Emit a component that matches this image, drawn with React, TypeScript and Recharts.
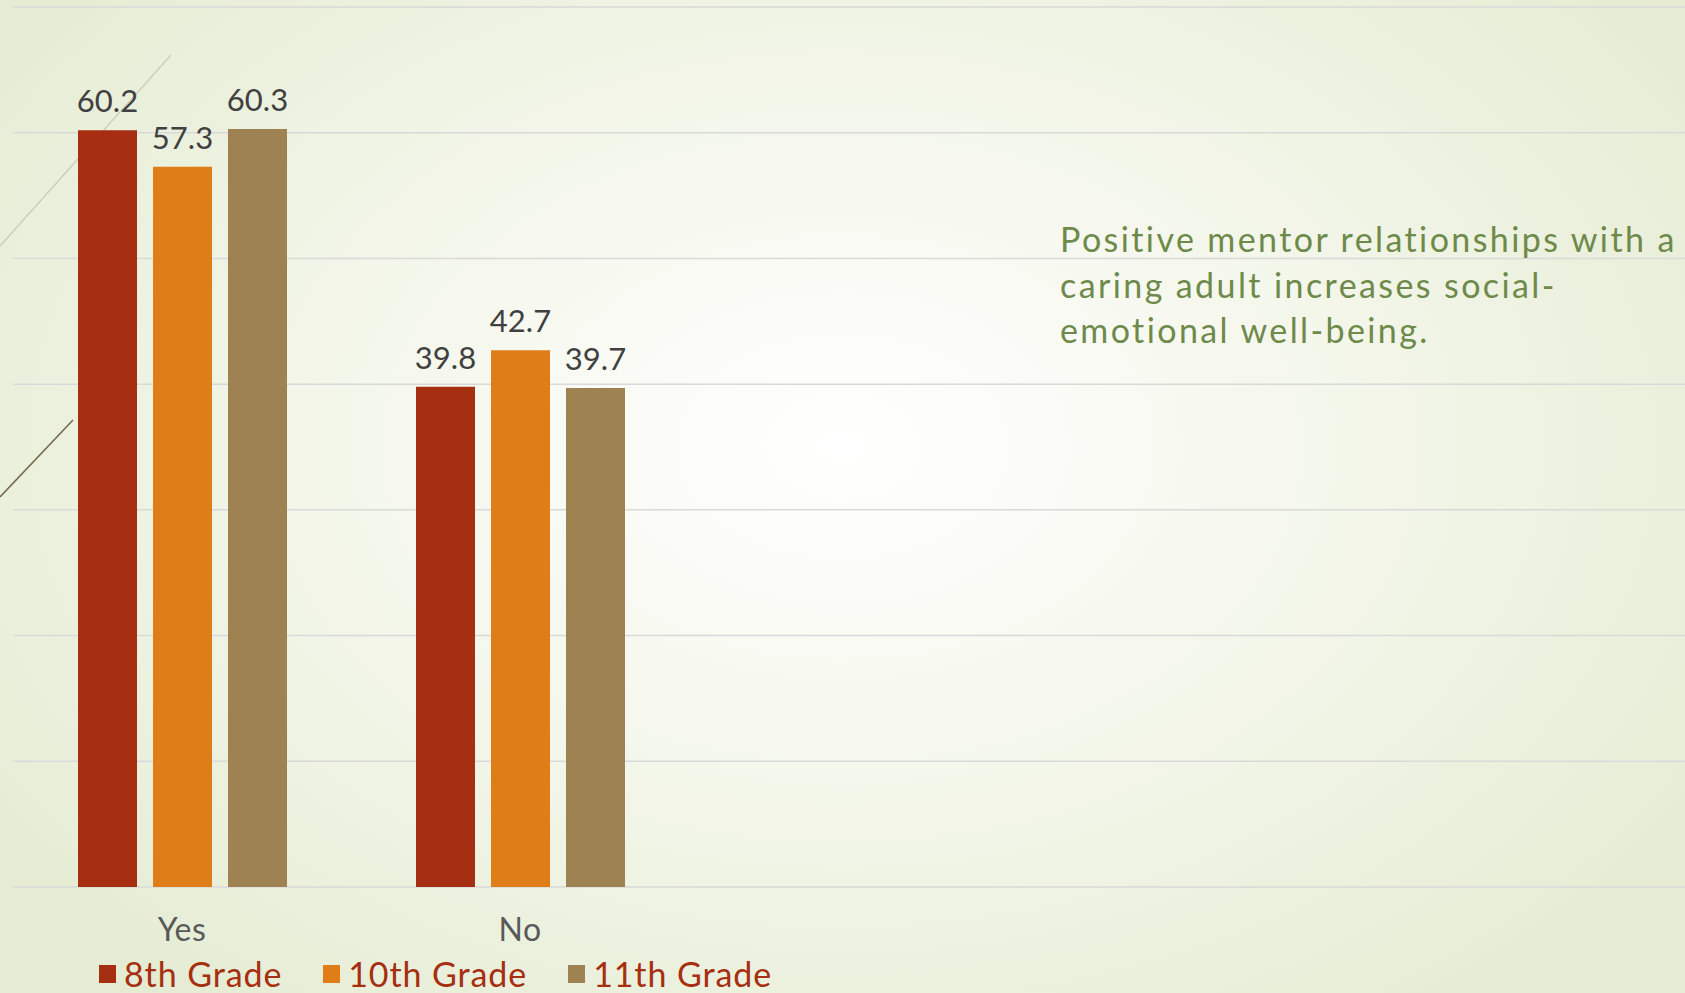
import { BarChart, Bar, XAxis, YAxis, CartesianGrid, Legend, LabelList } from "recharts";

const categories = ["Yes", "No"];
const grade8 = [60.2, 39.8];
const grade10 = [57.3, 42.7];
const grade11 = [60.3, 39.7];
const yTicks = [0, 10, 20, 30, 40, 50, 60, 70];

const series = [
  { key: "g8", name: "8th Grade", color: "#a52f10" },
  { key: "g10", name: "10th Grade", color: "#df7e19" },
  { key: "g11", name: "11th Grade", color: "#9e8251" },
];

const noteLines = [
  "Positive mentor relationships with a",
  "caring adult increases social-",
  "emotional well-being.",
];

const data = categories.map((c, i) => ({
  cat: c,
  g8: grade8[i],
  g10: grade10[i],
  g11: grade11[i],
}));

const FONT = "Lato, 'Open Sans', sans-serif";

// category tick, text baseline well below the axis
function CatTick(props: any) {
  const { x, y, payload } = props;
  return (
    <text x={x} y={y + 46} textAnchor="middle" fill="#595959"
      fontSize={32} fontFamily={FONT} letterSpacing={0.5}>
      {payload.value}
    </text>
  );
}

function LegendBox() {
  return (
    <div style={{ display: "flex", alignItems: "center", height: 34 }}>
      {series.map((s) => (
        <div key={s.key} style={{ display: "flex", alignItems: "center", marginRight: 41 }}>
          <span style={{ width: 17, height: 18, background: s.color, display: "inline-block", marginRight: 8 }} />
          <span style={{
            color: "#a52f10", fontSize: 34, fontFamily: FONT, lineHeight: "34px",
            letterSpacing: 0.9,
          }}>{s.name}</span>
        </div>
      ))}
    </div>
  );
}

export default function App() {
  return (
    <div style={{
      position: "absolute", left: 0, top: 0, width: 1685, height: 993, overflow: "hidden",
      background: "radial-gradient(ellipse 62% 72% at 50% 45%, #ffffff 0%, #f6f8ee 40%, #e5ecd3 100%)",
    }}>
      {/* slide decoration lines */}
      <svg width={1685} height={993} style={{ position: "absolute", left: 0, top: 0 }}>
        <line x1={171} y1={55} x2={0} y2={246} stroke="#c9ccb9" strokeWidth={1.2} />
        <line x1={73} y1={420} x2={0} y2={497} stroke="#76694f" strokeWidth={1.6} />
      </svg>

      <div style={{ position: "absolute", left: 0, top: 0 }}>
        <BarChart width={1685} height={993} data={data}
          margin={{ top: 7, right: 0, left: 13, bottom: 2 }}
          barSize={59} barGap={16}>
          <CartesianGrid vertical={false} stroke="#d9d9d9" strokeWidth={1.5} />
          <YAxis hide domain={[0, 70]} ticks={yTicks} />
          <XAxis dataKey="cat" height={70} axisLine={false} tickLine={false}
            padding={{ left: 0, right: 996 }} tick={<CatTick />} />
          <Legend verticalAlign="bottom" height={34} content={<LegendBox />}
            wrapperStyle={{ left: 99, width: 800 }} />
          {series.map((s) => (
            <Bar key={s.key} dataKey={s.key} name={s.name} fill={s.color}
              isAnimationActive={false}>
              <LabelList dataKey={s.key} position="top" offset={18}
                fill="#404040" fontSize={31} fontFamily={FONT} />
            </Bar>
          ))}
        </BarChart>
      </div>

      <div style={{
        position: "absolute", left: 1060, top: 216, width: 640, whiteSpace: "nowrap",
        color: "#6e8a4a", fontSize: 34, lineHeight: "45.5px", fontFamily: FONT,
        letterSpacing: 2.4,
      }}>
        {noteLines.map((l) => <div key={l}>{l}</div>)}
      </div>
    </div>
  );
}
